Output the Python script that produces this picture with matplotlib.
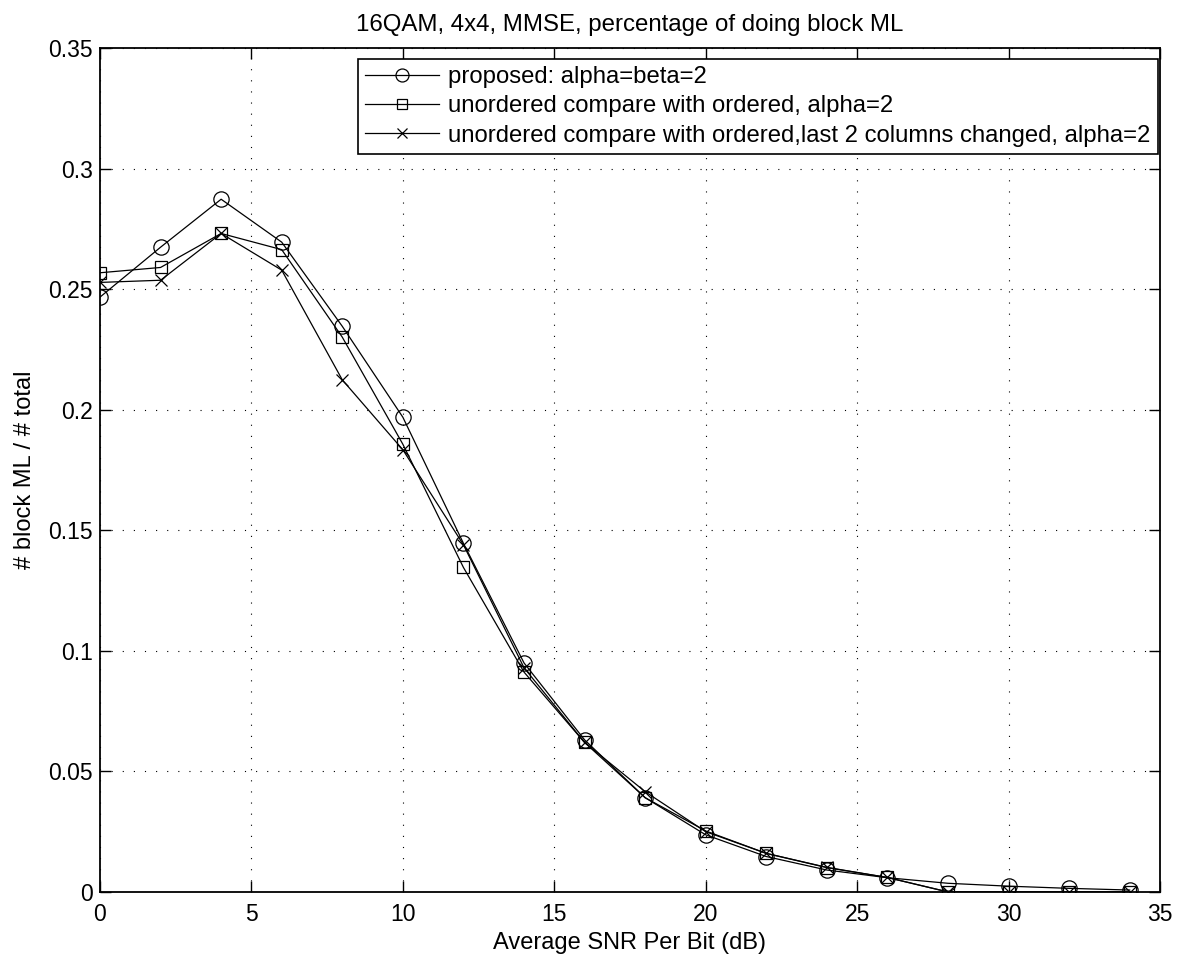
import matplotlib
matplotlib.use("Agg")
import matplotlib.pyplot as plt

plt.rcParams['font.family'] = ['Liberation Sans', 'DejaVu Sans']

snr = [0, 2, 4, 6, 8, 10, 12, 14, 16, 18, 20, 22, 24, 26, 28, 30, 32, 34]
proposed = [0.2467, 0.2674, 0.2873, 0.2695, 0.2346, 0.1969, 0.1446, 0.0950, 0.0631,
            0.0391, 0.0237, 0.0147, 0.0091, 0.0059, 0.0036, 0.0024, 0.0015, 0.0008]
unordered = [0.2568, 0.2590, 0.2731, 0.2664, 0.2301, 0.1857, 0.1346, 0.0912, 0.0620,
             0.0391, 0.0253, 0.0160, 0.0101, 0.0060, 0.0, 0.0, 0.0, 0.0]
unordered_last2 = [0.2528, 0.2537, 0.2731, 0.2579, 0.2124, 0.1834, 0.1440, 0.0930, 0.0620,
                   0.0416, 0.0250, 0.0160, 0.0102, 0.0060, 0.0, 0.0, 0.0, 0.0]
labels = ["proposed: alpha=beta=2",
          "unordered compare with ordered, alpha=2",
          "unordered compare with ordered,last 2 columns changed, alpha=2"]

fig = plt.figure(figsize=(11.96, 9.59), dpi=100)
ax = fig.add_axes([0.0836, 0.0699, 0.8863, 0.8800])

ax.plot(snr, proposed, color='black', lw=0.9, marker='o', ms=11, mfc='none', mew=0.9, label=labels[0])
ax.plot(snr, unordered, color='black', lw=0.9, marker='s', ms=8.5, mfc='none', mew=0.9, label=labels[1])
ax.plot(snr, unordered_last2, color='black', lw=0.9, marker='x', ms=9, mew=0.9, label=labels[2])

ax.set_xlim(0, 35)
ax.set_ylim(0, 0.35)
ax.set_xticks(range(0, 36, 5))
ax.set_yticks([0, 0.05, 0.1, 0.15, 0.2, 0.25, 0.3, 0.35])
ax.set_yticklabels(['0', '0.05', '0.1', '0.15', '0.2', '0.25', '0.3', '0.35'])
ax.tick_params(direction='in', top=True, right=True, labelsize=16.5, length=8, width=1)
ax.tick_params(axis='x', pad=8)
ax.tick_params(axis='y', pad=5)
ax.grid(True, linestyle=(0, (1, 9)), color='black', lw=0.8)
for s in ax.spines.values():
    s.set_linewidth(1.3)

ax.set_xlabel('Average SNR Per Bit (dB)', fontsize=17, labelpad=4)
ax.set_ylabel('# block ML / # total', fontsize=17, labelpad=9)
ax.set_title('16QAM, 4x4, MMSE, percentage of doing block ML', fontsize=17.3, pad=12)

leg = ax.legend(loc='upper right', bbox_to_anchor=(0.998, 0.987), borderaxespad=0,
                prop={'size': 17.2}, framealpha=1.0,
                frameon=True, fancybox=False, edgecolor='black', handlelength=3.1,
                handletextpad=0.38, labelspacing=0.3, borderpad=0.3, markerscale=0.85)
leg.get_frame().set_linewidth(1.2)

fig.savefig('out.png', dpi=100, facecolor='white')
